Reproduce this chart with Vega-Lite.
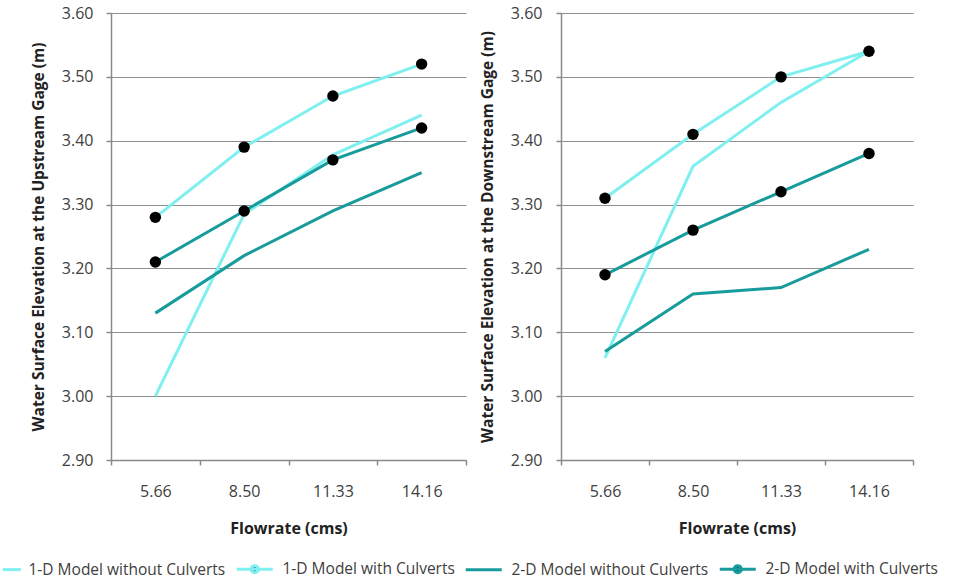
{
  "$schema": "https://vega.github.io/schema/vega-lite/v6.json",
  "padding": {"left": 11, "top": 5, "right": 5, "bottom": 0},
  "background": "white",
  "spacing": 13,
  "config": {
    "view": {"stroke": null},
    "font": "Open Sans",
    "axis": {
      "labelFont": "Open Sans", "labelFontSize": 16, "labelColor": "#404040",
      "titleFont": "Open Sans", "titleFontSize": 16, "titleFontWeight": "bold", "titleColor": "#222222",
      "domainColor": "#8a8a8a", "tickColor": "#8a8a8a", "gridColor": "#8f8f8f", "gridWidth": 1.2,
      "domainWidth": 1.5, "tickWidth": 1.5, "tickSize": 5
    },
    "axisY": {"titleFontSize": 15.5}
  },
  "datasets": {
    "up": [
      {"flow": "5.66", "series": "1-D Model without Culverts", "elev": 3.00},
      {"flow": "8.50", "series": "1-D Model without Culverts", "elev": 3.285},
      {"flow": "11.33", "series": "1-D Model without Culverts", "elev": 3.378},
      {"flow": "14.16", "series": "1-D Model without Culverts", "elev": 3.44},
      {"flow": "5.66", "series": "1-D Model with Culverts", "elev": 3.28},
      {"flow": "8.50", "series": "1-D Model with Culverts", "elev": 3.39},
      {"flow": "11.33", "series": "1-D Model with Culverts", "elev": 3.47},
      {"flow": "14.16", "series": "1-D Model with Culverts", "elev": 3.52},
      {"flow": "5.66", "series": "2-D Model without Culverts", "elev": 3.13},
      {"flow": "8.50", "series": "2-D Model without Culverts", "elev": 3.22},
      {"flow": "11.33", "series": "2-D Model without Culverts", "elev": 3.29},
      {"flow": "14.16", "series": "2-D Model without Culverts", "elev": 3.35},
      {"flow": "5.66", "series": "2-D Model with Culverts", "elev": 3.21},
      {"flow": "8.50", "series": "2-D Model with Culverts", "elev": 3.29},
      {"flow": "11.33", "series": "2-D Model with Culverts", "elev": 3.37},
      {"flow": "14.16", "series": "2-D Model with Culverts", "elev": 3.42}
    ],
    "down": [
      {"flow": "5.66", "series": "1-D Model without Culverts", "elev": 3.06},
      {"flow": "8.50", "series": "1-D Model without Culverts", "elev": 3.36},
      {"flow": "11.33", "series": "1-D Model without Culverts", "elev": 3.46},
      {"flow": "14.16", "series": "1-D Model without Culverts", "elev": 3.54},
      {"flow": "5.66", "series": "1-D Model with Culverts", "elev": 3.31},
      {"flow": "8.50", "series": "1-D Model with Culverts", "elev": 3.41},
      {"flow": "11.33", "series": "1-D Model with Culverts", "elev": 3.50},
      {"flow": "14.16", "series": "1-D Model with Culverts", "elev": 3.54},
      {"flow": "5.66", "series": "2-D Model without Culverts", "elev": 3.07},
      {"flow": "8.50", "series": "2-D Model without Culverts", "elev": 3.16},
      {"flow": "11.33", "series": "2-D Model without Culverts", "elev": 3.17},
      {"flow": "14.16", "series": "2-D Model without Culverts", "elev": 3.23},
      {"flow": "5.66", "series": "2-D Model with Culverts", "elev": 3.19},
      {"flow": "8.50", "series": "2-D Model with Culverts", "elev": 3.26},
      {"flow": "11.33", "series": "2-D Model with Culverts", "elev": 3.32},
      {"flow": "14.16", "series": "2-D Model with Culverts", "elev": 3.38}
    ]
  },
  "hconcat": [
    {
      "width": 355, "height": 447,
      "data": {"name": "up"},
      "encoding": {
        "x": {"field": "flow", "type": "ordinal", "sort": ["5.66", "8.50", "11.33", "14.16"],
          "scale": {"type": "band", "paddingInner": 0, "paddingOuter": 0},
          "axis": {"title": "Flowrate (cms)", "labelAngle": 0, "tickBand": "extent", "grid": false, "labelPadding": 18, "titlePadding": 21}},
        "y": {"field": "elev", "type": "quantitative",
          "scale": {"domain": [2.9, 3.6], "nice": false, "zero": false},
          "axis": {"title": "Water Surface Elevation at the Upstream Gage (m)", "values": [2.9, 3.0, 3.1, 3.2, 3.3, 3.4, 3.5, 3.6], "format": ".2f", "labelPadding": 13, "titlePadding": 15}},
        "color": {"field": "series", "type": "nominal",
          "scale": {"domain": ["1-D Model without Culverts", "1-D Model with Culverts", "2-D Model without Culverts", "2-D Model with Culverts"],
            "range": ["#7FEFEF", "#7FEFEF", "#189B9B", "#189B9B"]},
          "legend": {
            "orient": "none", "direction": "horizontal", "legendX": -100, "legendY": 548, "title": null, "padding": 0,
            "labelFont": "Open Sans", "labelFontSize": 15.5, "labelColor": "#404040", "labelLimit": 400, "columnPadding": 4, "labelOffset": 2,
            "symbolSize": 16, "symbolStrokeWidth": 3, "symbolOpacity": 1,
            "encode": {"symbols": {"update": {
              "size": {"value": 16},
              "shape": {"signal": "test(/ with /, datum.label) ? 'M-18,0H0M-7.25,0A1.75,1.75 0 1 1 -10.75,0A1.75,1.75 0 1 1 -7.25,0Z' : (datum.index == 0 ? 'M-8,0H1' : 'M-18,0H0')"},
              "fill": {"signal": "test(/ with /, datum.label) ? 'black' : 'transparent'"},
              "stroke": {"signal": "test(/ with /, datum.label) ? {gradient: 'linear', x1: 0, y1: 0, x2: 1, y2: 0, stops: [{offset: 0, color: (test(/^1-D/, datum.label) ? '#7FEFEF' : '#189B9B')}, {offset: 0.36, color: (test(/^1-D/, datum.label) ? '#7FEFEF' : '#189B9B')}, {offset: 0.36, color: 'black'}, {offset: 0.64, color: 'black'}, {offset: 0.64, color: (test(/^1-D/, datum.label) ? '#7FEFEF' : '#189B9B')}, {offset: 1, color: (test(/^1-D/, datum.label) ? '#7FEFEF' : '#189B9B')}]} : (test(/^1-D/, datum.label) ? '#7FEFEF' : '#189B9B')"}
            }}}
          }}
      },
      "layer": [
        {"mark": {"type": "line", "strokeWidth": 3}},
        {"transform": [{"filter": "test(/ with /, datum.series)"}],
          "mark": {"type": "point", "filled": true, "size": 130, "opacity": 1},
          "encoding": {"color": {"value": "black"}}}
      ]
    },
    {
      "width": 352, "height": 447,
      "data": {"name": "down"},
      "encoding": {
        "x": {"field": "flow", "type": "ordinal", "sort": ["5.66", "8.50", "11.33", "14.16"],
          "scale": {"type": "band", "paddingInner": 0, "paddingOuter": 0},
          "axis": {"title": "Flowrate (cms)", "labelAngle": 0, "tickBand": "extent", "grid": false, "labelPadding": 18, "titlePadding": 21}},
        "y": {"field": "elev", "type": "quantitative",
          "scale": {"domain": [2.9, 3.6], "nice": false, "zero": false},
          "axis": {"title": "Water Surface Elevation at the Downstream Gage (m)", "values": [2.9, 3.0, 3.1, 3.2, 3.3, 3.4, 3.5, 3.6], "format": ".2f", "labelPadding": 14, "titlePadding": 15}},
        "color": {"field": "series", "type": "nominal"}
      },
      "layer": [
        {"mark": {"type": "line", "strokeWidth": 3}},
        {"transform": [{"filter": "test(/ with /, datum.series)"}],
          "mark": {"type": "point", "filled": true, "size": 130, "opacity": 1},
          "encoding": {"color": {"value": "black"}}}
      ]
    }
  ]
}
